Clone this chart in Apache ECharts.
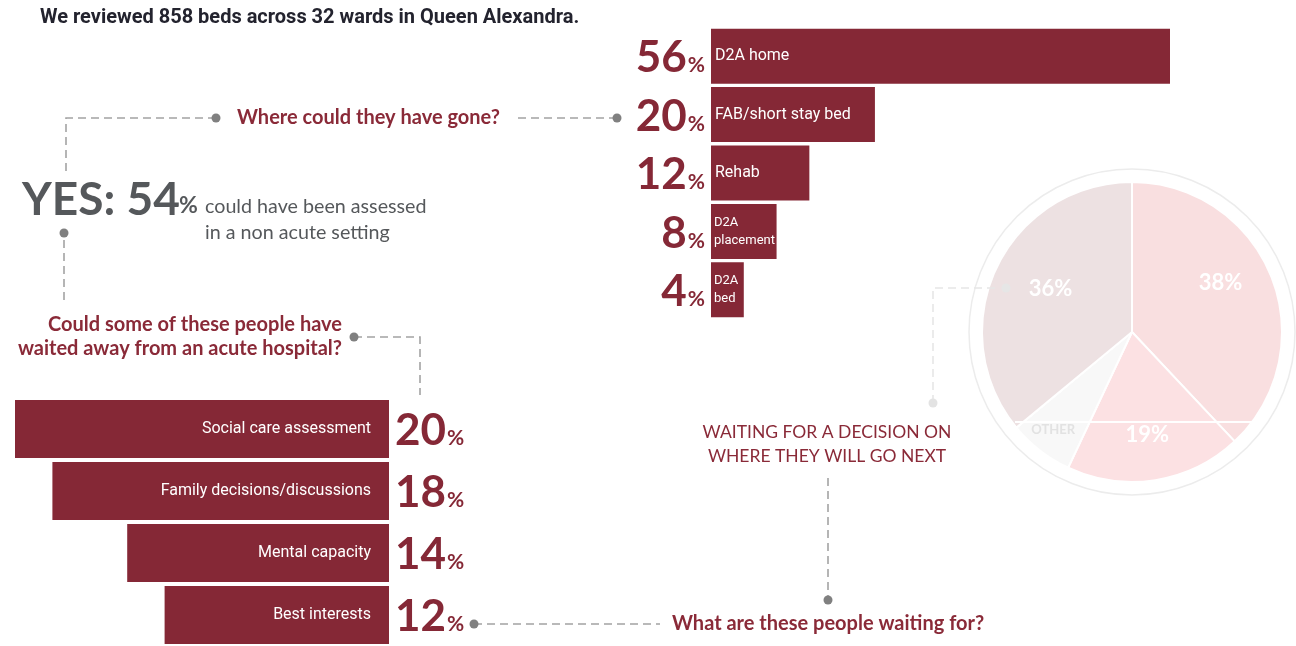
<!DOCTYPE html>
<html>
<head>
<meta charset="utf-8">
<script src="https://cdn.jsdelivr.net/npm/echarts@6/dist/echarts.min.js"></script>
<style>
  html, body { margin: 0; padding: 0; background: #ffffff; }
  #chart { width: 1296px; height: 646px; }
</style>
</head>
<body>
<div id="chart"></div>
<script>
// Where patients could have gone instead (share of reviewed beds, %)
const destCategories = ['D2A home', 'FAB/short stay bed', 'Rehab', 'D2A\nplacement', 'D2A\nbed'];
const destValues = [56, 20, 12, 8, 4];

// What patients are waiting for (%)
const waitCategories = ['Social care assessment', 'Family decisions/discussions', 'Mental capacity', 'Best interests'];
const waitValues = [20, 18, 14, 12];

// Waiting for a decision on where they will go next (%)
const decisionNames = ['Group A', 'Group B', 'OTHER', 'Group C'];
const decisionValues = [38, 19, 7, 36];

// Headline figure
const yesShare = 54;

const RED = '#852836';
const TEXT_RED = '#8a2a38';
const GREY_TEXT = '#55585b';
const DASH = '#a3a3a3';
const NARROW = '"Liberation Sans Narrow", Roboto, sans-serif';
const LATO = 'Lato, "Open Sans", sans-serif';

const chart = echarts.init(document.getElementById('chart'), null, { renderer: 'canvas' });

const pctRich = {
  n: { fontSize: 44, fontWeight: 'bold', fontFamily: LATO, color: RED, lineHeight: 48, verticalAlign: 'bottom' },
  p: { fontSize: 21, fontWeight: 'bold', fontFamily: LATO, color: RED, lineHeight: 26, verticalAlign: 'bottom', padding: [0, 0, 4, 1] }
};

// inner label nudges for the pie slices
const pieLabelOffsets = [[16, -20], [3, 26], [-31, 36], [-11, -10]];
const pieColors = ['#f9dfe0', '#fce1e3', '#f8f8f8', '#ede1e2'];

// short bars get a smaller name so it stays on the bar
const destItems = destValues.map(v => (
  v < 10 ? { value: v, label: { fontSize: 13, lineHeight: 18, position: [3, '50%'] } } : { value: v }
));

function dashed(points, color) {
  return {
    type: 'polyline', z: 50, silent: true,
    shape: { points: points },
    style: { stroke: color || DASH, lineWidth: 1.6, lineDash: [8, 5], fill: null }
  };
}
function dot(x, y, color) {
  return { type: 'circle', z: 51, silent: true, shape: { cx: x, cy: y, r: 4.5 }, style: { fill: color || '#808080' } };
}
function txt(x, y, text, font, fill, align, vAlign) {
  return {
    type: 'text', z: 60, silent: true, x: x, y: y,
    style: { text: text, font: font, fill: fill, align: align || 'left', verticalAlign: vAlign || 'middle' }
  };
}

const option = {
  backgroundColor: '#ffffff',
  animation: false,
  grid: [
    { left: 711, top: 27, width: 459, height: 292 },
    { left: 15, top: 398, width: 374, height: 252 }
  ],
  xAxis: [
    { type: 'value', gridIndex: 0, min: 0, max: 56, show: false },
    { type: 'value', gridIndex: 1, min: 0, max: 20, inverse: true, show: false }
  ],
  yAxis: [
    { type: 'category', gridIndex: 0, data: destCategories, inverse: true, show: false },
    { type: 'category', gridIndex: 1, data: waitCategories, inverse: true, show: false }
  ],
  series: [
    {
      type: 'bar', xAxisIndex: 0, yAxisIndex: 0, data: destItems, barWidth: 55,
      itemStyle: { color: RED },
      label: {
        show: true, position: [4, '50%'], align: 'left', verticalAlign: 'middle',
        formatter: '{b}', overflow: 'none',
        color: '#ffffff', fontSize: 16, fontFamily: NARROW, lineHeight: 20
      }
    },
    {
      type: 'bar', xAxisIndex: 0, yAxisIndex: 0, data: destValues, barWidth: 55, barGap: '-100%',
      itemStyle: { color: 'rgba(0,0,0,0)' },
      label: {
        show: true, position: 'left', distance: 6,
        formatter: p => '{n|' + p.value + '}{p|%}', rich: pctRich
      }
    },
    {
      type: 'bar', xAxisIndex: 1, yAxisIndex: 1, data: waitValues, barWidth: 58,
      itemStyle: { color: RED },
      label: {
        show: true, position: 'insideRight', distance: 18, formatter: '{b}', overflow: 'none',
        color: '#ffffff', fontSize: 16, fontFamily: NARROW
      }
    },
    {
      type: 'bar', xAxisIndex: 1, yAxisIndex: 1, data: waitValues, barWidth: 58, barGap: '-100%',
      itemStyle: { color: 'rgba(0,0,0,0)' },
      label: {
        show: true, position: 'right', distance: 6,
        formatter: p => '{n|' + p.value + '}{p|%}', rich: pctRich
      }
    },
    {
      type: 'pie', center: [1132, 332], radius: 150, startAngle: 90, clockwise: true,
      silent: true,
      data: decisionNames.map((name, i) => ({
        name: name, value: decisionValues[i],
        itemStyle: { color: pieColors[i] },
        label: { offset: pieLabelOffsets[i] }
      })),
      itemStyle: { borderColor: '#ffffff', borderWidth: 2 },
      label: {
        show: true, position: 'inside',
        formatter: p => p.name === 'OTHER' ? '{o|OTHER}' : '{v|' + p.value + '%}',
        rich: {
          v: { fontSize: 22, fontWeight: 'bold', fontFamily: LATO, color: '#ffffff' },
          o: { fontSize: 13, fontWeight: 'bold', fontFamily: LATO, color: '#e2e2e2' }
        }
      },
      labelLine: { show: false }
    }
  ],
  graphic: [
    // outer ring around the pie
    { type: 'circle', z: 1, silent: true, shape: { cx: 1132, cy: 332, r: 163 }, style: { fill: null, stroke: '#ececec', lineWidth: 1.5 } },
    { type: 'line', z: 100, silent: true, shape: { x1: 1015, y1: 422, x2: 1255, y2: 422 }, style: { stroke: '#ffffff', lineWidth: 2 } },

    txt(40, 18, 'We reviewed 858 beds across 32 wards in Queen Alexandra.', 'bold 20px ' + NARROW, '#23232e'),

    // "Where could they have gone?"
    dashed([[216, 118], [66, 118], [66, 172]]), dot(216, 118),
    txt(237, 118, 'Where could they have gone?', 'bold 20px ' + LATO, TEXT_RED),
    dashed([[518, 118], [617, 118]]), dot(617, 118),

    // headline
    txt(22, 200, 'YES: ' + yesShare, 'bold 46px ' + LATO, GREY_TEXT),
    txt(179, 206, '%', 'bold 23px ' + LATO, GREY_TEXT),
    txt(205, 207, 'could have been assessed', '19.7px ' + LATO, GREY_TEXT),
    txt(205, 233, 'in a non acute setting', '19.7px ' + LATO, GREY_TEXT),
    dot(64, 233), dashed([[64, 240], [64, 305]]),

    // "Could some of these people have waited..."
    txt(342, 325, 'Could some of these people have', 'bold 20px ' + LATO, TEXT_RED, 'right'),
    txt(342, 349, 'waited away from an acute hospital?', 'bold 20px ' + LATO, TEXT_RED, 'right'),
    dot(354, 337), dashed([[354, 337], [420, 337], [420, 395]]),

    // decision pie annotation
    txt(827, 432, 'WAITING FOR A DECISION ON', '17.5px ' + LATO, TEXT_RED, 'center'),
    txt(827, 456, 'WHERE THEY WILL GO NEXT', '17.5px ' + LATO, TEXT_RED, 'center'),
    dashed([[828, 478], [828, 598]]), dot(828, 600),
    dashed([[933, 403], [933, 288], [1000, 288]], '#e6e6e6'), dot(933, 403, '#e3e3e3'), dot(1006, 288, '#e6e6e6'),

    // "What are these people waiting for?"
    dot(474, 624), dashed([[474, 624], [660, 624]]),
    txt(672, 624, 'What are these people waiting for?', 'bold 20px ' + LATO, TEXT_RED)
  ]
};

chart.setOption(option);
</script>
</body>
</html>
